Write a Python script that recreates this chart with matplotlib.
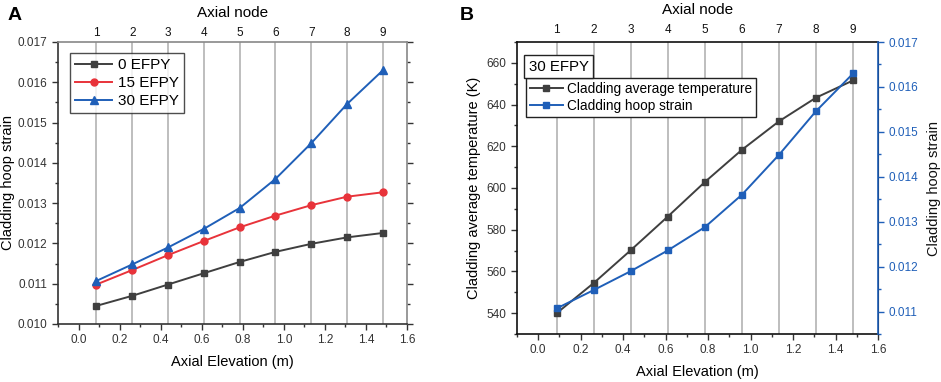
import matplotlib
matplotlib.use("Agg")
import matplotlib.pyplot as plt
from matplotlib.ticker import MultipleLocator, FormatStrFormatter

plt.rcParams['font.family'] = ['Liberation Sans', 'DejaVu Sans']

# ---- data ----
nodes = [1, 2, 3, 4, 5, 6, 7, 8, 9]
elevation = [0.087, 0.262, 0.436, 0.610, 0.785, 0.959, 1.134, 1.308, 1.483]
strain_0 = [0.01045, 0.01070, 0.01098, 0.01126, 0.01154, 0.01179, 0.01199, 0.01215, 0.01226]
strain_15 = [0.01098, 0.01134, 0.01171, 0.01206, 0.01240, 0.01269, 0.01295, 0.01316, 0.01327]
strain_30 = [0.01107, 0.01148, 0.01190, 0.01236, 0.01288, 0.01360, 0.01449, 0.01546, 0.01630]
temp_30 = [540.0, 554.5, 570.2, 586.3, 602.9, 618.3, 632.0, 643.3, 651.6]
labels_A = ['0 EFPY', '15 EFPY', '30 EFPY']
labels_B = ['Cladding average temperature', 'Cladding hoop strain']

W, H = 941, 382
fig = plt.figure(figsize=(W / 100, H / 100), dpi=100)

def px_axes(l, t, r, b):
    return fig.add_axes([l / W, 1 - b / H, (r - l) / W, (b - t) / H])

dark = '#3f3f3f'
red = '#e8333a'
blue = '#1f5fb8'
grid = '#b9b9b9'
tick_fs = 8.5
lab_fs = 10.5

# ================= Panel A =================
axA = px_axes(58, 42, 407, 324)
for x in elevation:
    axA.axvline(x, color=grid, lw=1.3, zorder=0)
axA.plot(elevation, strain_0, '-s', color=dark, ms=5, lw=1.4, label=labels_A[0])
axA.plot(elevation, strain_15, '-o', color=red, ms=5, lw=1.4, label=labels_A[1])
axA.plot(elevation, strain_30, '-^', color=blue, ms=6, lw=1.4, label=labels_A[2])
axA.set_xlim(-0.1, 1.6)
axA.set_ylim(0.010, 0.017)
axA.xaxis.set_major_locator(MultipleLocator(0.2))
axA.xaxis.set_minor_locator(MultipleLocator(0.1))
axA.xaxis.set_major_formatter(FormatStrFormatter('%.1f'))
axA.yaxis.set_major_locator(MultipleLocator(0.001))
axA.yaxis.set_minor_locator(MultipleLocator(0.0005))
axA.yaxis.set_major_formatter(FormatStrFormatter('%.3f'))
axA.tick_params(which='both', direction='out', right=True, labelsize=tick_fs,
                colors='#333333', width=1.0)
axA.tick_params(which='major', length=4)
axA.tick_params(which='minor', length=2.5)
for s in ['left', 'bottom']:
    axA.spines[s].set_color('#333333')
    axA.spines[s].set_linewidth(1.2)
for s in ['top', 'right']:
    axA.spines[s].set_color('#888888')
    axA.spines[s].set_linewidth(1.2)
axA.tick_params(axis='y', which='both', right=True, color='#777777')
axA.tick_params(axis='y', which='both', left=True, color='#333333')
axA.set_xlabel('Axial Elevation (m)', fontsize=lab_fs, labelpad=6)
axA.set_ylabel('Cladding hoop strain', fontsize=lab_fs, labelpad=2)
topA = axA.secondary_xaxis('top')
topA.set_xticks(elevation)
topA.set_xticklabels([str(n) for n in nodes])
topA.tick_params(length=0, labelsize=tick_fs, pad=2.5, colors='#111111')
topA.set_xlabel('Axial node', fontsize=11, labelpad=7)
topA.spines['top'].set_visible(False)
legA = axA.legend(loc='upper left', bbox_to_anchor=(0.012, 0.988), fontsize=11,
                  frameon=True, fancybox=False, edgecolor='#222222',
                  handlelength=2.4, borderpad=0.35, labelspacing=0.25,
                  handletextpad=0.4)
legA.get_frame().set_linewidth(1.0)
fig.text(8 / W, 1 - 15 / H, 'A', fontsize=14, fontweight='bold', va='center')

# ================= Panel B =================
axB = px_axes(517, 42, 878, 334)
for x in elevation:
    axB.axvline(x, color=grid, lw=1.3, zorder=0)
lT, = axB.plot(elevation, temp_30, '-s', color=dark, ms=5, lw=1.4, label=labels_B[0], zorder=3)
axB.set_xlim(-0.1, 1.6)
axB.set_ylim(530, 670)
axB.xaxis.set_major_locator(MultipleLocator(0.2))
axB.xaxis.set_minor_locator(MultipleLocator(0.1))
axB.xaxis.set_major_formatter(FormatStrFormatter('%.1f'))
axB.yaxis.set_major_locator(MultipleLocator(20))
axB.yaxis.set_minor_locator(MultipleLocator(10))
axB.tick_params(which='both', direction='out', labelsize=tick_fs, colors='#333333', width=1.0)
axB.tick_params(which='major', length=4)
axB.tick_params(which='minor', length=2.5)
for s in ['left', 'bottom', 'top']:
    axB.spines[s].set_color('#111111')
    axB.spines[s].set_linewidth(1.2)
axB.set_xlabel('Axial Elevation (m)', fontsize=lab_fs, labelpad=6)
axB.set_ylabel('Cladding average temperature (K)', fontsize=lab_fs, labelpad=4)

axB2 = axB.twinx()
lS, = axB2.plot(elevation, strain_30, '-s', color=blue, ms=5, lw=1.4, label=labels_B[1], zorder=4)
axB2.set_ylim(0.0105, 0.017)
axB2.yaxis.set_major_locator(MultipleLocator(0.001))
axB2.yaxis.set_minor_locator(MultipleLocator(0.0005))
axB2.yaxis.set_major_formatter(FormatStrFormatter('%.3f'))
axB2.tick_params(which='both', direction='out', labelsize=tick_fs, colors=blue, width=1.0)
axB2.tick_params(which='major', length=4)
axB2.tick_params(which='minor', length=2.5)
axB2.spines['right'].set_color(blue)
axB2.spines['right'].set_linewidth(1.2)
for s in ['left', 'bottom', 'top']:
    axB2.spines[s].set_visible(False)
axB2.set_ylabel('Cladding hoop strain', fontsize=lab_fs, labelpad=6, color='#111111')

topB = axB.secondary_xaxis('top')
topB.set_xticks(elevation)
topB.set_xticklabels([str(n) for n in nodes])
topB.tick_params(length=0, labelsize=tick_fs, pad=4.5, colors='#111111')
topB.set_xlabel('Axial node', fontsize=11, labelpad=7)
topB.spines['top'].set_visible(False)

axB2.text(0.033, 0.915, '30 EFPY', transform=axB.transAxes, fontsize=10.8,
          va='center', ha='left', zorder=10,
          bbox=dict(boxstyle='square,pad=0.3', fc='white', ec='#222222', lw=1.0))
legB = axB2.legend(handles=[lT, lS], loc='upper left', bbox_to_anchor=(0.006, 0.9),
                   fontsize=9.8, frameon=True, fancybox=False, edgecolor='#222222',
                   handlelength=2.4, borderpad=0.3, labelspacing=0.2,
                   handletextpad=0.3, framealpha=1)
legB.get_frame().set_linewidth(1.0)
fig.text(460 / W, 1 - 15 / H, 'B', fontsize=14, fontweight='bold', va='center')

fig.savefig('out.png', dpi=100)
